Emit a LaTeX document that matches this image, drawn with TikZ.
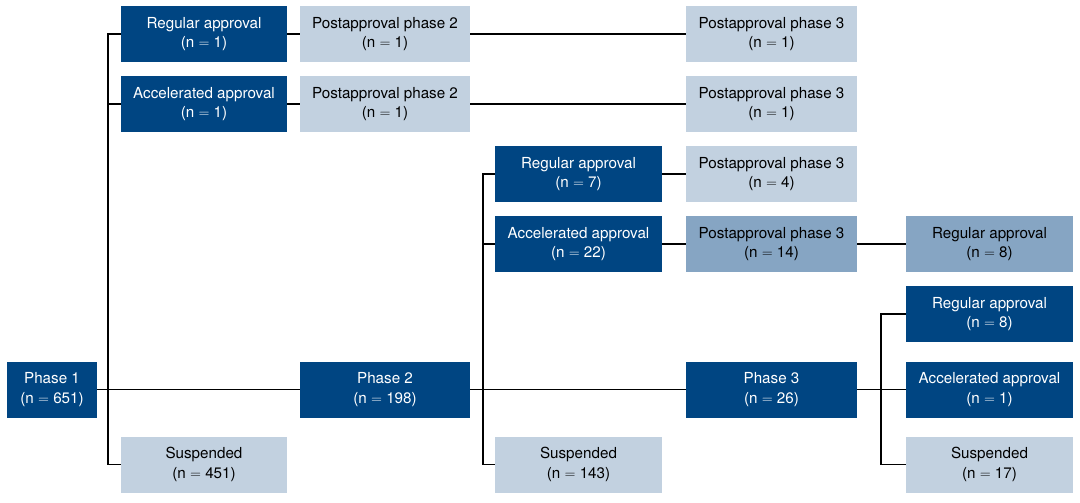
\documentclass[tikz,border=0pt]{standalone}
\usepackage{fontspec}
\setmainfont{TeX Gyre Heros}
\usepackage{tikz}
\usepackage{xcolor}
\definecolor{darkblue}{RGB}{0,69,130}
\definecolor{lightblue}{RGB}{194,209,224}
\definecolor{midblue}{RGB}{134,165,195}

\begin{document}
\begin{tikzpicture}[x=1pt,y=-1pt]
        \useasboundingbox (0,0) rectangle (1080,503);
        \begin{scope}[
            every node/.style={shape=rectangle,minimum height=56pt,inner sep=0pt,
                align=center,font=\fontsize{15.2}{19.5}\selectfont}
        ]
            \node[fill=darkblue,text=white,minimum width=90pt] (P1) at (52,389.5) {Phase 1\\(n $=$ 651)};
            \node[fill=darkblue,text=white,minimum width=170pt] (P2) at (385,389.5) {Phase 2\\(n $=$ 198)};
            \node[fill=darkblue,text=white,minimum width=171pt] (P3) at (771.5,389.5) {Phase 3\\(n $=$ 26)};

            \node[fill=darkblue,text=white,minimum width=166pt] (RA1) at (204,34) {Regular approval\\(n $=$ 1)};
            \node[fill=darkblue,text=white,minimum width=166pt] (AA1) at (204,104) {Accelerated approval\\(n $=$ 1)};
            \node[fill=lightblue,minimum width=166pt] (S1) at (204,464.5) {Suspended\\(n $=$ 451)};

            \node[fill=lightblue,minimum width=170pt] (PPa) at (385,34) {Postapproval phase 2\\(n $=$ 1)};
            \node[fill=lightblue,minimum width=170pt] (PPb) at (385,104) {Postapproval phase 2\\(n $=$ 1)};
            \node[fill=lightblue,minimum width=171pt] (PQa) at (771.5,34) {Postapproval phase 3\\(n $=$ 1)};
            \node[fill=lightblue,minimum width=171pt] (PQb) at (771.5,104) {Postapproval phase 3\\(n $=$ 1)};

            \node[fill=darkblue,text=white,minimum width=167pt] (RA2) at (578.5,174) {Regular approval\\(n $=$ 7)};
            \node[fill=darkblue,text=white,minimum width=167pt] (AA2) at (578.5,244) {Accelerated approval\\(n $=$ 22)};
            \node[fill=lightblue,minimum width=167pt] (S2) at (578.5,464.5) {Suspended\\(n $=$ 143)};

            \node[fill=lightblue,minimum width=171pt] (PQc) at (771.5,174) {Postapproval phase 3\\(n $=$ 4)};
            \node[fill=midblue,minimum width=171pt] (PQd) at (771.5,244) {Postapproval phase 3\\(n $=$ 14)};
            \node[fill=midblue,minimum width=167pt] (RA4) at (989.5,244) {Regular approval\\(n $=$ 8)};

            \node[fill=darkblue,text=white,minimum width=167pt] (RA3) at (989.5,314) {Regular approval\\(n $=$ 8)};
            \node[fill=darkblue,text=white,minimum width=167pt] (AA3) at (989.5,389.5) {Accelerated approval\\(n $=$ 1)};
            \node[fill=lightblue,minimum width=167pt] (S3) at (989.5,464.5) {Suspended\\(n $=$ 17)};
        \end{scope}
        \coordinate (J1) at (108,389.5);
        \coordinate (J2) at (483,389.5);
        \coordinate (J3) at (881,389.5);
        \begin{scope}[
            every path/.style={draw=black,line width=1.8pt}
        ]
            \path (P1) -- (P2);
            \path (P2) -- (P3);
            \path (P3.east) -- (J3);

            \path (J1) |- (RA1.west);
            \path (J1) |- (AA1.west);
            \path (J1) |- (S1.west);
            \path (RA1) -- (PPa);
            \path (PPa) -- (PQa);
            \path (AA1) -- (PPb);
            \path (PPb) -- (PQb);

            \path (J2) |- (RA2.west);
            \path (J2) |- (AA2.west);
            \path (J2) |- (S2.west);
            \path (RA2) -- (PQc);
            \path (AA2) -- (PQd);
            \path (PQd) -- (RA4);

            \path (J3) |- (RA3.west);
            \path (J3) -- (AA3.west);
            \path (J3) |- (S3.west);
        \end{scope}
    \end{tikzpicture}
\end{document}
